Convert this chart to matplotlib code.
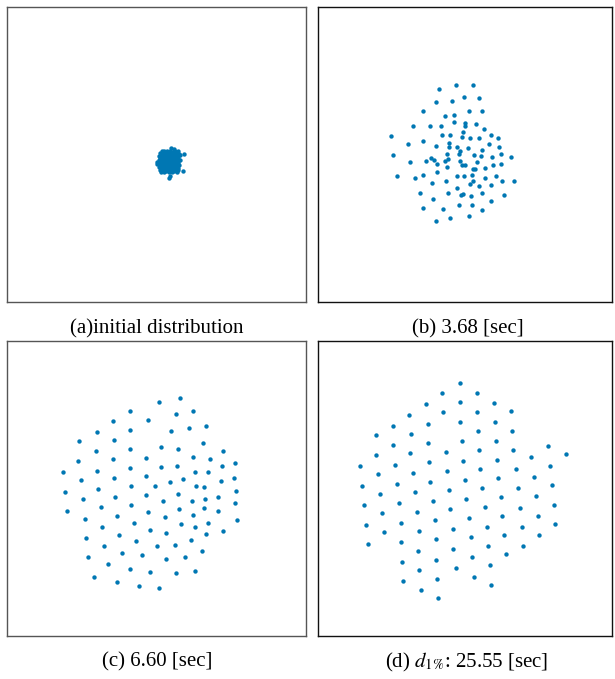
import matplotlib
matplotlib.use("Agg")
import matplotlib.pyplot as plt

plt.rcParams['font.family'] = ['Liberation Serif', 'DejaVu Serif']
plt.rcParams['mathtext.fontset'] = 'stix'

# ---------------- data (positions, arbitrary units) ----------
# (a) initial distribution: dense cluster
a_x = [50, 58, 66, 74, 82, 90, 98,
       45, 53, 61, 69, 77, 85, 93, 101,
       43, 51, 59, 67, 75, 83, 91, 99, 104,
       44, 52, 60, 68, 76, 84, 92, 100,
       42, 50, 58, 66, 74, 82, 90, 98, 105,
       43, 51, 59, 67, 75, 83, 91, 99,
       44, 52, 60, 68, 76, 84, 92, 101,
       42, 50, 58, 66, 74, 82, 90, 98,
       45, 53, 61, 69, 77, 85, 93, 100,
       48, 56, 64, 72, 80, 88, 96,
       35, 37, 88, 77, 118, 113, 75, 72]
a_y = [48, 47, 49, 48, 50, 47, 49,
       55, 56, 54, 55, 57, 55, 54, 56,
       62, 63, 61, 62, 63, 61, 62, 63, 61,
       69, 70, 68, 69, 70, 68, 69, 70,
       76, 77, 75, 76, 77, 75, 76, 77, 75,
       83, 84, 82, 83, 84, 82, 83, 84,
       90, 91, 89, 90, 91, 89, 90, 91,
       97, 98, 96, 97, 98, 96, 97, 98,
       104, 105, 103, 104, 105, 103, 104, 105,
       110, 111, 109, 110, 111, 109, 110,
       80, 87, 42, 40, 58, 108, 122, 130]

# (b) 3.68 sec
b_x = [228, 278, 177, 253, 296, 169, 215, 129, 267, 306, 194, 223, 99, 149, 184,
       223, 256, 255, 287, 312, 248, 33, 185, 210, 247, 269, 296, 334, 353, 128,
       85, 169, 208, 206, 230, 263, 239, 328, 357, 307, 38, 201, 238, 282, 302,
       336, 362, 393, 152, 162, 205, 196, 240, 91, 137, 172, 245, 255, 290, 200,
       279, 286, 316, 338, 362, 171, 52, 129, 230, 253, 275, 316, 349, 104, 197,
       157, 280, 271, 297, 334, 366, 402, 231, 119, 203, 249, 243, 272, 305, 371,
       159, 332, 238, 275, 130, 190, 305, 268, 210, 167]
b_y = [29, 29, 43, 65, 69, 81, 79, 109, 109, 107, 123, 119, 154, 152, 153,
       142, 145, 153, 146, 162, 171, 183, 181, 181, 187, 189, 190, 180, 188, 197,
       208, 212, 205, 217, 217, 220, 227, 207, 215, 225, 241, 237, 238, 240, 243,
       245, 237, 246, 249, 254, 252, 258, 259, 261, 259, 266, 270, 270, 262, 276,
       281, 281, 279, 270, 266, 290, 303, 300, 302, 302, 301, 308, 302, 310, 318,
       324, 317, 326, 333, 329, 317, 319, 338, 355, 355, 357, 361, 362, 354, 360,
       372, 378, 391, 391, 399, 401, 406, 422, 430, 437]

# (c) 6.60 sec
c_x = [375, 313, 224, 414, 363, 174, 280, 452, 401, 125, 225, 349, 73, 176, 443,
       317, 224, 369, 123, 503, 70, 175, 273, 414, 464, 541, 225, 318, 365, 500,
       24, 127, 419, 458, 78, 178, 272, 383, 346, 536, 497, 227, 301, 424, 447,
       31, 130, 543, 181, 274, 370, 489, 84, 325, 411, 450, 539, 229, 137, 372,
       446, 489, 36, 278, 187, 414, 90, 330, 545, 236, 377, 459, 142, 421, 286,
       332, 192, 453, 503, 94, 244, 408, 148, 306, 361, 202, 441, 100, 262, 391,
       334, 159, 226, 286, 364, 419, 117, 185, 253, 313]
c_y = [39, 51, 77, 79, 88, 108, 106, 122, 129, 140, 135, 138, 168, 165, 174,
       185, 191, 192, 199, 198, 227, 223, 220, 215, 222, 235, 248, 245, 243, 244,
       261, 257, 262, 262, 285, 280, 274, 282, 290, 280, 287, 303, 302, 302, 306,
       320, 312, 318, 335, 331, 328, 335, 343, 347, 348, 341, 355, 360, 367, 372,
       370, 378, 378, 382, 392, 390, 401, 397, 405, 413, 418, 414, 426, 425, 436,
       445, 449, 448, 439, 459, 467, 465, 483, 482, 480, 503, 498, 517, 510, 517,
       523, 538, 553, 560, 565, 557, 575, 592, 603, 608]

# (d) d_1% : 25.55 sec
d_x = [331, 275, 382, 228, 331, 432, 177, 280, 381, 484, 130, 233, 330, 435, 79,
       184, 383, 487, 128, 235, 335, 437, 595, 77, 181, 287, 386, 489, 544, 648,
       30, 135, 237, 339, 441, 600, 83, 189, 290, 391, 499, 552, 36, 141, 240,
       344, 443, 605, 89, 194, 296, 397, 505, 558, 42, 146, 249, 348, 452, 612,
       96, 201, 301, 405, 510, 563, 48, 153, 254, 357, 457, 616, 102, 207, 310,
       410, 515, 55, 152, 259, 362, 462, 567, 205, 310, 414, 518, 156, 257, 367,
       467, 208, 317, 419, 159, 261, 371, 212, 424, 265]
d_y = [33, 62, 62, 96, 91, 92, 128, 120, 121, 118, 162, 155, 150, 150, 190,
       186, 178, 177, 220, 213, 208, 208, 222, 248, 244, 240, 235, 234, 254, 247,
       283, 279, 271, 267, 263, 281, 307, 303, 298, 292, 291, 314, 341, 337, 329,
       324, 318, 339, 365, 361, 355, 348, 349, 373, 400, 393, 386, 380, 374, 400,
       423, 419, 412, 406, 407, 432, 458, 452, 444, 438, 432, 457, 481, 478, 472,
       464, 465, 516, 511, 502, 496, 489, 490, 537, 530, 522, 521, 569, 563, 555,
       547, 595, 589, 580, 628, 622, 614, 653, 638, 679]

captions = ["(a)initial distribution", "(b) 3.68 [sec]",
            "(c) 6.60 [sec]", r"(d) $d_{1\%}$: 25.55 [sec]"]

# ---------------- layout ----------------
W, H = 615, 679
fig = plt.figure(figsize=(W / 100, H / 100), dpi=100)
fig.patch.set_facecolor("white")

# panel boxes in pixels (left, top, right, bottom)
boxes = [(7, 7, 306, 302), (318, 7, 612, 302),
         (7, 341, 306, 636), (318, 341, 612, 636)]
# view limits for each panel in its data units (x0, x1, y_top, y_bottom)
limits = [(-414, 483, -384, 501), (-186, 696, -204, 681),
          (-144, 753, -132, 753), (-96, 786, -93, 792)]
edge_colors = ["#555555", "#111111", "#555555", "#111111"]
datasets = [(a_x, a_y), (b_x, b_y), (c_x, c_y), (d_x, d_y)]
cap_pos = [(157, 329), (468, 329), (157, 662), (467, 662)]

color = "#0077B3"
for (l, t, r, b), (x0, x1, yt, yb), ec, (xs, ys), cap, (cx, cy) in zip(
        boxes, limits, edge_colors, datasets, captions, cap_pos):
    ax = fig.add_axes([l / W, 1 - b / H, (r - l) / W, (b - t) / H])
    ax.scatter(xs, ys, s=10, color=color, linewidths=0, zorder=3)
    ax.set_xlim(x0, x1)
    ax.set_ylim(yb, yt)
    ax.set_xticks([])
    ax.set_yticks([])
    for sp in ax.spines.values():
        sp.set_color(ec)
        sp.set_linewidth(1.0)
    fig.text(cx / W, 1 - cy / H, cap, ha="center", va="center", fontsize=15)

fig.savefig("out.png", dpi=100, facecolor="white")
